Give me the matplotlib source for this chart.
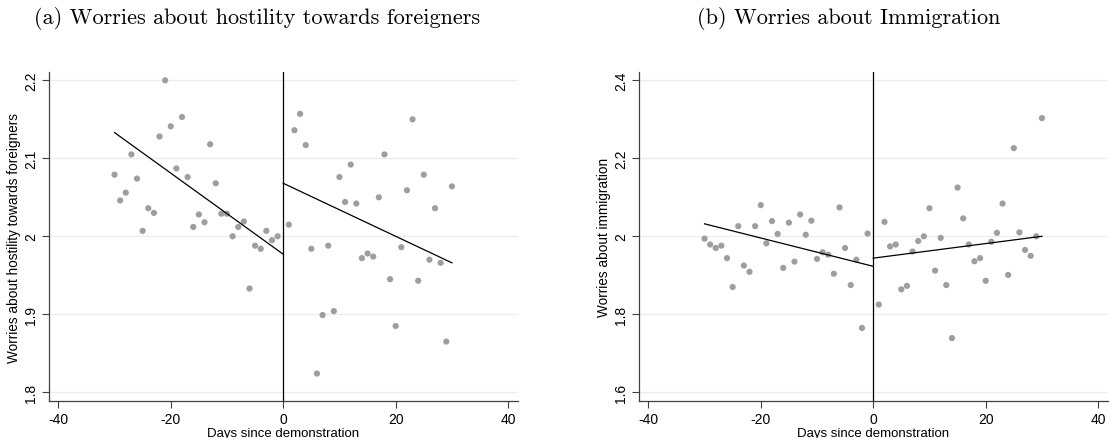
import matplotlib
matplotlib.use("Agg")
import matplotlib.pyplot as plt

plt.rcParams['font.family'] = ['Liberation Sans', 'DejaVu Sans']
plt.rcParams['axes.unicode_minus'] = False

# ---------------- data ----------------
days_pre = [-30, -29, -28, -27, -26, -25, -24, -23, -22, -21,
            -20, -19, -18, -17, -16, -15, -14, -13, -12, -11,
            -10, -9, -8, -7, -6, -5, -4, -3, -2, -1]
days_post = [1, 2, 3, 4, 5, 6, 7, 8, 9, 10,
             11, 12, 13, 14, 15, 16, 17, 18, 19, 20,
             21, 22, 23, 24, 25, 26, 27, 28, 29, 30]

hostility_pre = [2.079, 2.046, 2.056, 2.105, 2.074, 2.007, 2.036, 2.030, 2.128, 2.200,
                 2.141, 2.087, 2.153, 2.076, 2.012, 2.028, 2.018, 2.118, 2.068, 2.029,
                 2.029, 2.000, 2.012, 2.019, 1.933, 1.988, 1.984, 2.007, 1.995, 2.000]
hostility_post = [2.015, 2.136, 2.157, 2.117, 1.984, 1.824, 1.899, 1.988, 1.904, 2.076,
                  2.044, 2.092, 2.042, 1.972, 1.978, 1.974, 2.050, 2.105, 1.945, 1.885,
                  1.986, 2.059, 2.150, 1.943, 2.079, 1.970, 2.036, 1.966, 1.865, 2.064]

immig_pre = [1.994, 1.979, 1.970, 1.976, 1.944, 1.870, 2.026, 1.925, 1.909, 2.026,
             2.080, 1.982, 2.039, 2.006, 1.919, 2.035, 1.935, 2.056, 2.004, 2.040,
             1.942, 1.959, 1.953, 1.904, 2.074, 1.970, 1.875, 1.940, 1.765, 2.007]
immig_post = [1.825, 2.037, 1.974, 1.979, 1.864, 1.873, 1.961, 1.988, 2.000, 2.072,
              1.912, 1.996, 1.875, 1.739, 2.125, 2.046, 1.979, 1.936, 1.944, 1.886,
              1.986, 2.009, 2.084, 1.901, 2.226, 2.010, 1.965, 1.950, 2.000, 2.303]

fit_x_pre = [-30, 0]
fit_x_post = [0, 30]
hostility_fit_pre = [2.133, 1.977]
hostility_fit_post = [2.068, 1.966]
immig_fit_pre = [2.032, 1.923]
immig_fit_post = [1.944, 2.000]

x_ticks = [-40, -20, 0, 20, 40]
x_ticklabels = ["-40", "-20", "0", "20", "40"]
hostility_yticks = [1.8, 1.9, 2.0, 2.1, 2.2]
hostility_yticklabels = ["1.8", "1.9", "2", "2.1", "2.2"]
immig_yticks = [1.6, 1.8, 2.0, 2.2, 2.4]
immig_yticklabels = ["1.6", "1.8", "2", "2.2", "2.4"]

titles = ["(a) Worries about hostility towards foreigners",
          "(b) Worries about Immigration"]
ylabels = ["Worries about hostility towards foreigners",
           "Worries about immigration"]
xlabel = "Days since demonstration"

# ---------------- figure ----------------
W, H = 1113, 439
fig = plt.figure(figsize=(W / 100, H / 100), dpi=100)

def px_axes(left, top, right, bottom):
    return fig.add_axes([left / W, 1 - bottom / H, (right - left) / W, (bottom - top) / H])

ax1 = px_axes(49.3, 73.3, 517.7, 402)
ax2 = px_axes(639.3, 73.3, 1107.7, 402)

panels = [
    (ax1, hostility_pre, hostility_post, hostility_fit_pre, hostility_fit_post,
     hostility_yticks, hostility_yticklabels, (1.7888, 2.2103)),
    (ax2, immig_pre, immig_post, immig_fit_pre, immig_fit_post,
     immig_yticks, immig_yticklabels, (1.5777, 2.4205)),
]

dot_color = "#9e9e9e"
spine_color = "#404040"

for i, (ax, pre, post, fpre, fpost, yt, ytl, ylim) in enumerate(panels):
    ax.set_xlim(-41.6, 41.7)
    ax.set_ylim(*ylim)
    for y in yt:
        ax.axhline(y, color="#e6eff1", lw=1.0, zorder=0)
    ax.scatter(days_pre, pre, s=20, color=dot_color, edgecolors="none", zorder=2)
    ax.scatter(days_post, post, s=20, color=dot_color, edgecolors="none", zorder=2)
    ax.plot(fit_x_pre, fpre, color="black", lw=0.9, zorder=3)
    ax.plot(fit_x_post, fpost, color="black", lw=0.9, zorder=3)
    ax.axvline(0, color="black", lw=0.9, zorder=3)

    ax.set_xticks(x_ticks)
    ax.set_xticklabels(x_ticklabels)
    ax.set_yticks(yt)
    ax.set_yticklabels(ytl, rotation=90, va="center")
    ax.tick_params(axis="both", direction="out", length=5, width=0.8,
                   color=spine_color, labelsize=10, pad=3)
    for s in ["top", "right"]:
        ax.spines[s].set_visible(False)
    for s in ["left", "bottom"]:
        ax.spines[s].set_color(spine_color)
        ax.spines[s].set_linewidth(0.9)
    ax.set_xlabel(xlabel, fontsize=9.5, labelpad=1)
    ax.set_ylabel(ylabels[i], fontsize=9.8, labelpad=2)

fig.text(257 / W, 1 - 19 / H, titles[0], family=["cmr10"], fontsize=16,
         ha="center", va="center")
fig.text(849 / W, 1 - 19 / H, titles[1], family=["cmr10"], fontsize=16,
         ha="center", va="center")

fig.savefig("out.png", dpi=100)
